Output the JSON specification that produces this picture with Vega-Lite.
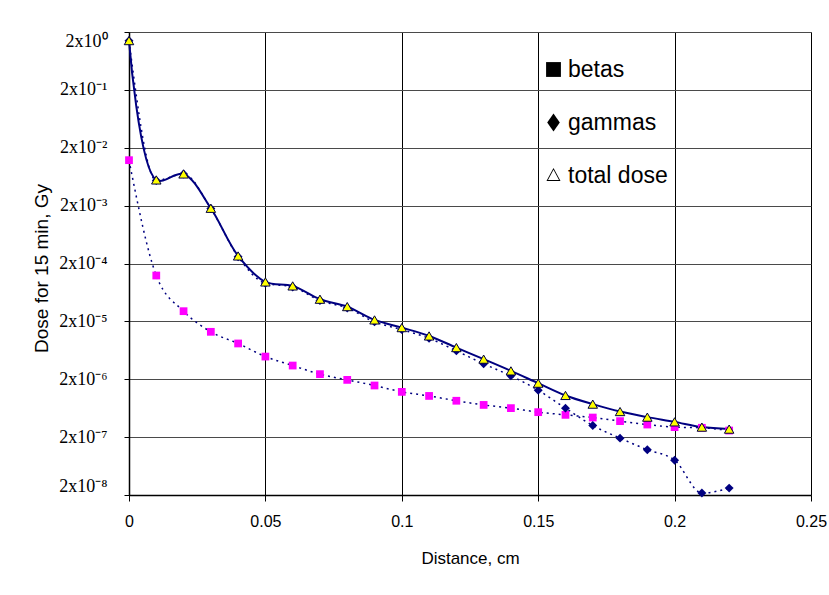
{
  "$schema": "https://vega.github.io/schema/vega-lite/v6.json",
  "width": 682,
  "height": 463,
  "autosize": {"type": "none"},
  "padding": {"left": 129, "top": 32, "right": 18, "bottom": 100},
  "background": "white",
  "config": {
    "view": {"stroke": "#808080", "strokeWidth": 1},
    "font": "Liberation Sans"
  },
  "datasets": {
    "dose": [
      {"x": 0, "series": "betas", "dose": 0.0122},
      {"x": 0.01, "series": "betas", "dose": 1.24e-4},
      {"x": 0.02, "series": "betas", "dose": 3.0e-5},
      {"x": 0.03, "series": "betas", "dose": 1.32e-5},
      {"x": 0.04, "series": "betas", "dose": 8.3e-6},
      {"x": 0.05, "series": "betas", "dose": 4.93e-6},
      {"x": 0.06, "series": "betas", "dose": 3.45e-6},
      {"x": 0.07, "series": "betas", "dose": 2.45e-6},
      {"x": 0.08, "series": "betas", "dose": 1.95e-6},
      {"x": 0.09, "series": "betas", "dose": 1.56e-6},
      {"x": 0.1, "series": "betas", "dose": 1.21e-6},
      {"x": 0.11, "series": "betas", "dose": 1.03e-6},
      {"x": 0.12, "series": "betas", "dose": 8.5e-7},
      {"x": 0.13, "series": "betas", "dose": 7.2e-7},
      {"x": 0.14, "series": "betas", "dose": 6.34e-7},
      {"x": 0.15, "series": "betas", "dose": 5.4e-7},
      {"x": 0.16, "series": "betas", "dose": 4.85e-7},
      {"x": 0.17, "series": "betas", "dose": 4.36e-7},
      {"x": 0.18, "series": "betas", "dose": 3.78e-7},
      {"x": 0.19, "series": "betas", "dose": 3.3e-7},
      {"x": 0.2, "series": "betas", "dose": 2.98e-7},
      {"x": 0.21, "series": "betas", "dose": 2.9e-7},
      {"x": 0.22, "series": "betas", "dose": 2.6e-7},
      {"x": 0, "series": "gammas", "dose": 1.41},
      {"x": 0.01, "series": "gammas", "dose": 5.44e-3},
      {"x": 0.02, "series": "gammas", "dose": 7.02e-3},
      {"x": 0.03, "series": "gammas", "dose": 1.79e-3},
      {"x": 0.04, "series": "gammas", "dose": 2.62e-4},
      {"x": 0.05, "series": "gammas", "dose": 9.1e-5},
      {"x": 0.06, "series": "gammas", "dose": 7.85e-5},
      {"x": 0.07, "series": "gammas", "dose": 4.58e-5},
      {"x": 0.08, "series": "gammas", "dose": 3.4e-5},
      {"x": 0.09, "series": "gammas", "dose": 1.96e-5},
      {"x": 0.1, "series": "gammas", "dose": 1.44e-5},
      {"x": 0.11, "series": "gammas", "dose": 1.02e-5},
      {"x": 0.12, "series": "gammas", "dose": 6.2e-6},
      {"x": 0.13, "series": "gammas", "dose": 3.69e-6},
      {"x": 0.14, "series": "gammas", "dose": 2.29e-6},
      {"x": 0.15, "series": "gammas", "dose": 1.29e-6},
      {"x": 0.16, "series": "gammas", "dose": 6.34e-7},
      {"x": 0.17, "series": "gammas", "dose": 3.17e-7},
      {"x": 0.18, "series": "gammas", "dose": 1.92e-7},
      {"x": 0.19, "series": "gammas", "dose": 1.21e-7},
      {"x": 0.2, "series": "gammas", "dose": 8.0e-8},
      {"x": 0.21, "series": "gammas", "dose": 2.16e-8},
      {"x": 0.22, "series": "gammas", "dose": 2.63e-8},
      {"x": 0, "series": "total dose", "dose": 1.42},
      {"x": 0.01, "series": "total dose", "dose": 5.56e-3},
      {"x": 0.02, "series": "total dose", "dose": 7.05e-3},
      {"x": 0.03, "series": "total dose", "dose": 1.8e-3},
      {"x": 0.04, "series": "total dose", "dose": 2.7e-4},
      {"x": 0.05, "series": "total dose", "dose": 9.6e-5},
      {"x": 0.06, "series": "total dose", "dose": 8.2e-5},
      {"x": 0.07, "series": "total dose", "dose": 4.83e-5},
      {"x": 0.08, "series": "total dose", "dose": 3.6e-5},
      {"x": 0.09, "series": "total dose", "dose": 2.12e-5},
      {"x": 0.1, "series": "total dose", "dose": 1.56e-5},
      {"x": 0.11, "series": "total dose", "dose": 1.12e-5},
      {"x": 0.12, "series": "total dose", "dose": 7.05e-6},
      {"x": 0.13, "series": "total dose", "dose": 4.45e-6},
      {"x": 0.14, "series": "total dose", "dose": 2.79e-6},
      {"x": 0.15, "series": "total dose", "dose": 1.71e-6},
      {"x": 0.16, "series": "total dose", "dose": 1.05e-6},
      {"x": 0.17, "series": "total dose", "dose": 7.43e-7},
      {"x": 0.18, "series": "total dose", "dose": 5.53e-7},
      {"x": 0.19, "series": "total dose", "dose": 4.43e-7},
      {"x": 0.2, "series": "total dose", "dose": 3.67e-7},
      {"x": 0.21, "series": "total dose", "dose": 2.98e-7},
      {"x": 0.22, "series": "total dose", "dose": 2.75e-7}
    ]
  },
  "data": {"name": "dose"},
  "encoding": {
    "x": {
      "field": "x",
      "type": "quantitative",
      "scale": {"domain": [0, 0.25], "nice": false, "zero": false},
      "axis": {
        "values": [0, 0.05, 0.1, 0.15, 0.2, 0.25],
        "format": ".2~f",
        "title": "Distance, cm",
        "grid": true,
        "gridColor": "#000000",
        "gridOpacity": 1,
        "gridWidth": 1,
        "domainColor": "#000000",
        "domainWidth": 1.5,
        "tickColor": "#000000",
        "tickSize": 6,
        "labelFont": "Liberation Sans",
        "labelFontSize": 16,
        "labelColor": "#000000",
        "labelPadding": 12,
        "labelFlush": false,
        "titleFont": "Liberation Sans",
        "titleFontSize": 17,
        "titleFontWeight": "normal",
        "titleColor": "#000000",
        "titleY": 63,
        "titleBaseline": "middle"
      }
    },
    "y": {
      "field": "dose",
      "type": "quantitative",
      "scale": {"type": "log", "domain": [2e-8, 2], "nice": false},
      "axis": {
        "values": [2e-8, 2e-7, 2e-6, 2e-5, 2e-4, 2e-3, 2e-2, 2e-1, 2],
        "labelExpr": "'2x10' + (round(log(datum.value/2)/LN10) < 0 ? '⁻' : '') + substring('⁰¹²³⁴⁵⁶⁷⁸⁹', abs(round(log(datum.value/2)/LN10)), abs(round(log(datum.value/2)/LN10)) + 1)",
        "title": "Dose for 15 min, Gy",
        "grid": true,
        "gridColor": "#4a4a4a",
        "gridOpacity": 1,
        "gridWidth": 1,
        "domainColor": "#000000",
        "domainWidth": 1.5,
        "tickColor": "#000000",
        "tickSize": 5,
        "labelFont": "Liberation Serif",
        "labelFontSize": 18,
        "labelColor": "#000000",
        "labelPadding": 17,
        "labelFlush": true,
        "titleFont": "Liberation Sans",
        "titleFontSize": 19,
        "titleFontWeight": "normal",
        "titleColor": "#000000",
        "titleAngle": -90,
        "titleX": -88,
        "titleY": 236,
        "titleBaseline": "middle",
        "titleAlign": "center"
      }
    }
  },
  "layer": [
    {
      "transform": [{"filter": "datum.series !== 'total dose'"}],
      "mark": {"type": "line", "color": "#000080", "strokeWidth": 1.5, "strokeDash": [2, 4], "interpolate": "monotone"},
      "encoding": {"detail": {"field": "series"}}
    },
    {
      "transform": [{"filter": "datum.series === 'total dose'"}],
      "mark": {"type": "line", "color": "#000080", "strokeWidth": 2, "interpolate": "catmull-rom"},
      "encoding": {}
    },
    {
      "transform": [{"filter": "datum.series === 'betas'"}],
      "mark": {"type": "point", "shape": "square", "filled": true, "color": "#FF00FF", "opacity": 1, "size": 60},
      "encoding": {}
    },
    {
      "transform": [{"filter": "datum.series === 'gammas'"}],
      "mark": {"type": "point", "shape": "diamond", "filled": true, "color": "#000080", "opacity": 1, "size": 80},
      "encoding": {}
    },
    {
      "transform": [{"filter": "datum.series === 'total dose'"}],
      "mark": {"type": "point", "shape": "triangle-up", "filled": true, "fill": "#FFFF00", "stroke": "#000040", "strokeWidth": 1, "opacity": 1, "size": 90},
      "encoding": {}
    },
    {
      "transform": [{"filter": "datum.x === 0"}],
      "mark": {"type": "point", "filled": true, "color": "#000000", "opacity": 0, "size": 220},
      "encoding": {
        "shape": {
          "field": "series",
          "type": "nominal",
          "scale": {
            "domain": ["betas", "gammas", "total dose"],
            "range": ["square", "M0,-1.2L0.85,0L0,1.2L-0.85,0Z", "M0,-1L0.95,0.75L-0.95,0.75Z M0,-0.76L-0.74,0.6L0.74,0.6Z"]
          },
          "legend": {
            "orient": "none",
            "legendX": 413,
            "legendY": 26,
            "title": null,
            "padding": 0,
            "labelFont": "Liberation Sans",
            "labelFontSize": 23,
            "labelColor": "#000000",
            "labelOffset": 3,
            "rowPadding": 29,
            "symbolSize": 220,
            "symbolOpacity": 1,
            "symbolFillColor": "#000000",
            "symbolStrokeWidth": 0
          }
        }
      }
    }
  ]
}
